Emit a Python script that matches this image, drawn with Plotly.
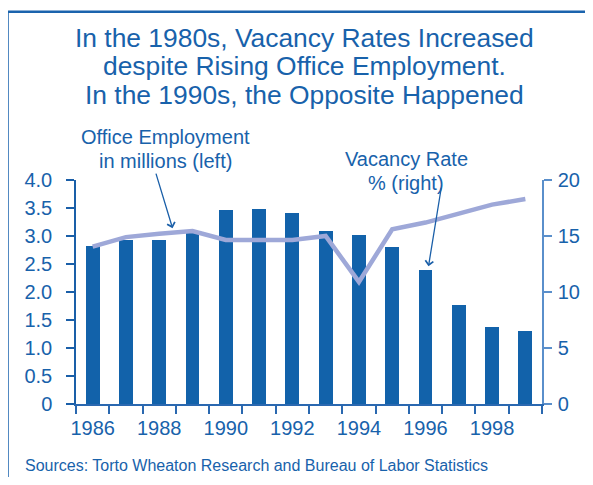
import plotly.graph_objects as go

years = list(range(1986, 2000))
bar_values = [2.82, 2.92, 2.93, 3.07, 3.46, 3.48, 3.41, 3.09, 3.02, 2.80, 2.39, 1.77, 1.375, 1.30]
line_values = [14.05, 14.9, 15.2, 15.45, 14.64, 14.64, 14.64, 15.0, 10.9, 15.6, 16.2, 17.0, 17.8, 18.3]
year_labels = ["1986", "1988", "1990", "1992", "1994", "1996", "1998"]
left_ticks = [0, 0.5, 1.0, 1.5, 2.0, 2.5, 3.0, 3.5, 4.0]
left_tick_text = ["0", "0.5", "1.0", "1.5", "2.0", "2.5", "3.0", "3.5", "4.0"]
right_ticks = [0, 5, 10, 15, 20]
title_lines = ["In the 1980s, Vacancy Rates Increased",
               "despite Rising Office Employment.",
               "In the 1990s, the Opposite Happened"]
source_text = "Sources: Torto Wheaton Research and Bureau of Labor Statistics"

# page body has an 8px margin; figure is sized to fit the window without scrollbars
OFF = 8
W, H = 593 - 2 * OFF, 485 - 2 * OFF
# plot area in screen pixels
SX0, SX1, SY0, SY1 = 76, 542, 180, 404
L, T = SX0 - OFF, SY0 - OFF
R = W - (SX1 - OFF)
B = H - (SY1 - OFF)
pw, ph = SX1 - SX0, SY1 - SY0

def px(x):
    return (x - SX0) / pw

def py(y):
    return (SY1 - y) / ph

BLUE = "#1862ab"
BAR = "#1262aa"
LINE = "#9ea8d8"
FONT = "Liberation Sans, Arial, sans-serif"

fig = go.Figure()
fig.add_trace(go.Bar(x=years, y=bar_values, marker=dict(color=BAR, line=dict(width=0)),
                     width=0.42, xaxis="x", yaxis="y", showlegend=False))
fig.add_trace(go.Scatter(x=years, y=line_values, mode="lines",
                         line=dict(color=LINE, width=4.5), xaxis="x2", yaxis="y2",
                         showlegend=False))

xr = [years[0] - 0.5, years[-1] + 0.5]
half_years = [y - 0.5 for y in years] + [years[-1] + 0.5]

fig.update_layout(
    width=W, height=H,
    margin=dict(l=L, r=R, t=T, b=B, autoexpand=False),
    paper_bgcolor="white", plot_bgcolor="white",
    font=dict(family=FONT, color=BLUE, size=20),
    bargap=0,
    xaxis=dict(range=xr, tickvals=[int(s) for s in year_labels], ticktext=year_labels,
               ticks="", showline=False, showgrid=False, zeroline=False,
               tickfont=dict(size=20, color=BLUE), ticklabelstandoff=10),
    xaxis2=dict(range=xr, overlaying="x", side="bottom", anchor="y2",
                tickvals=half_years, ticks="outside", ticklen=8, tickwidth=1.5,
                tickcolor="#2a68b0", showline=True, linecolor="#2a68b0", linewidth=1.5,
                showticklabels=False, showgrid=False, zeroline=False),
    yaxis=dict(range=[0, 4], tickvals=left_ticks, ticktext=left_tick_text,
               ticks="outside", ticklen=8, tickwidth=1.5, tickcolor="#1a5fa8",
               showline=True, linecolor="#1a5fa8", linewidth=1.5,
               showgrid=False, zeroline=False, tickfont=dict(size=20, color=BLUE),
               ticklabelstandoff=10),
    yaxis2=dict(range=[0, 20], tickvals=right_ticks, overlaying="y", side="right",
                anchor="x", ticks="outside", ticklen=8, tickwidth=1.5, tickcolor="#5a8fcb",
                showline=True, linecolor="#5a8fcb", linewidth=1.5,
                showgrid=False, zeroline=False, tickfont=dict(size=20, color=BLUE),
                ticklabelstandoff=2),
)

# frame
fig.add_shape(type="rect", xref="paper", yref="paper",
              x0=px(7.5), x1=px(640), y0=py(530), y1=py(11.7),
              line=dict(color="#1a63ad", width=2.5), fillcolor="rgba(0,0,0,0)", layer="above")

anns = []
for i, t in enumerate(title_lines):
    anns.append(dict(text=t, xref="paper", yref="paper", x=px(304), y=py(38 + 28.3 * i),
                     xanchor="center", yanchor="middle", showarrow=False,
                     font=dict(size=26.4, color=BLUE, family=FONT)))
for i, t in enumerate(["Office Employment", "in millions (left)"]):
    anns.append(dict(text=t, xref="paper", yref="paper", x=px(165), y=py(137 + 23.5 * i),
                     xanchor="center", yanchor="middle", showarrow=False,
                     font=dict(size=20, color=BLUE, family=FONT)))
for i, t in enumerate(["Vacancy Rate", "% (right)"]):
    anns.append(dict(text=t, xref="paper", yref="paper", x=px(406), y=py(159 + 23.5 * i),
                     xanchor="center", yanchor="middle", showarrow=False,
                     font=dict(size=20, color=BLUE, family=FONT)))
anns.append(dict(text=source_text, xref="paper", yref="paper", x=px(23), y=py(465),
                 xanchor="left", yanchor="middle", showarrow=False,
                 font=dict(size=16, color=BLUE, family=FONT)))
# arrows
anns.append(dict(text="", xref="x", yref="y", x=1988.4, y=3.14, ax=-17, ay=-56,
                 showarrow=True, arrowhead=4, arrowsize=1.2, arrowwidth=1.3,
                 arrowcolor="#1a5fa8", font=dict(size=1)))
anns.append(dict(text="", xref="x", yref="y", x=1996.09, y=2.46, ax=13, ay=-80,
                 showarrow=True, arrowhead=4, arrowsize=1.2, arrowwidth=1.3,
                 arrowcolor="#1a5fa8", font=dict(size=1)))
fig.update_layout(annotations=anns)

fig.write_html("out.html")
